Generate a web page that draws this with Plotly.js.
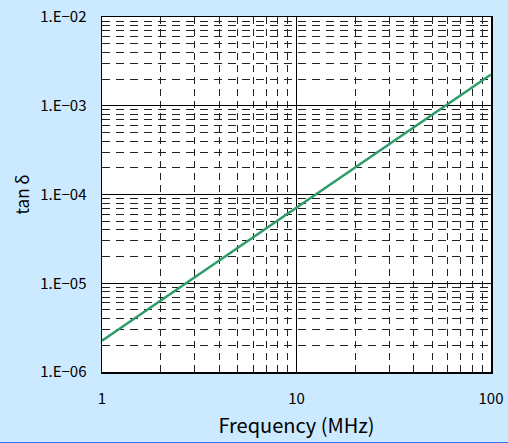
<!DOCTYPE html>
<html>
<head>
<meta charset="utf-8">
<script src="https://cdn.plot.ly/plotly-3.0.1.min.js"></script>
<style>
html,body{margin:0;padding:0;background:#cceaff;}
#chart{width:508px;height:442px;}
#bar{width:508px;height:1px;background:#3a6ff0;}
</style>
</head>
<body>
<div id="chart"></div>
<div id="bar"></div>
<script>
// Data
var frequency = [1, 10, 100];
var tanDelta = [2.25e-6, 7.1e-5, 2.25e-3];

var xTickVals = [1, 10, 100];
var xTickText = ["1", "10", "100"];
var yTickVals = [1e-6, 1e-5, 1e-4, 1e-3, 1e-2];
var yTickText = ["1.E\u221206", "1.E\u221205", "1.E\u221204", "1.E\u221203", "1.E\u221202"];
var xMinor = [2,3,4,5,6,7,8,9,20,30,40,50,60,70,80,90];
var yMinor = [];
[1e-6,1e-5,1e-4,1e-3].forEach(function(d){ for (var k=2;k<=9;k++) yMinor.push(k*d); });

var font = "'Noto Sans CJK JP', 'Noto Sans', sans-serif";

var trace = {
  x: frequency, y: tanDelta, type: 'scatter', mode: 'lines',
  line: {color: '#2e9b68', width: 2.5}, hoverinfo: 'none'
};

var layout = {
  width: 508, height: 442,
  margin: {l: 102, r: 17, t: 17, b: 70},
  paper_bgcolor: '#cceaff',
  plot_bgcolor: '#ffffff',
  showlegend: false,
  font: {family: font, size: 15, color: '#000'},
  xaxis: {
    type: 'log', range: [0, 2],
    tickmode: 'array', tickvals: xTickVals, ticktext: xTickText,
    ticks: '', ticklabelstandoff: 12,
    showline: true, linecolor: '#000', linewidth: 1.5, mirror: true,
    showgrid: true, gridcolor: '#000', gridwidth: 1,
    zeroline: false,
    minor: {tickmode: 'array', tickvals: xMinor, showgrid: true, gridcolor: '#222', gridwidth: 1, griddash: '7px,5px', ticks: ''},
    title: {text: 'Frequency (MHz)', font: {family: font, size: 20}, standoff: 12},
    tickfont: {family: font, size: 15}
  },
  yaxis: {
    type: 'log', range: [-6, -2],
    tickmode: 'array', tickvals: yTickVals, ticktext: yTickText,
    ticks: '', ticklabelstandoff: 11,
    showline: true, linecolor: '#000', linewidth: 1.5, mirror: true,
    showgrid: true, gridcolor: '#000', gridwidth: 1,
    zeroline: false,
    minor: {tickmode: 'array', tickvals: yMinor, showgrid: true, gridcolor: '#222', gridwidth: 1, griddash: '8px,6px', ticks: ''},
    title: {text: 'tan \u03b4', font: {family: font, size: 17}, standoff: 6},
    tickfont: {family: font, size: 15}
  }
};

Plotly.newPlot('chart', [trace], layout, {staticPlot: true, displayModeBar: false});
</script>
</body>
</html>
